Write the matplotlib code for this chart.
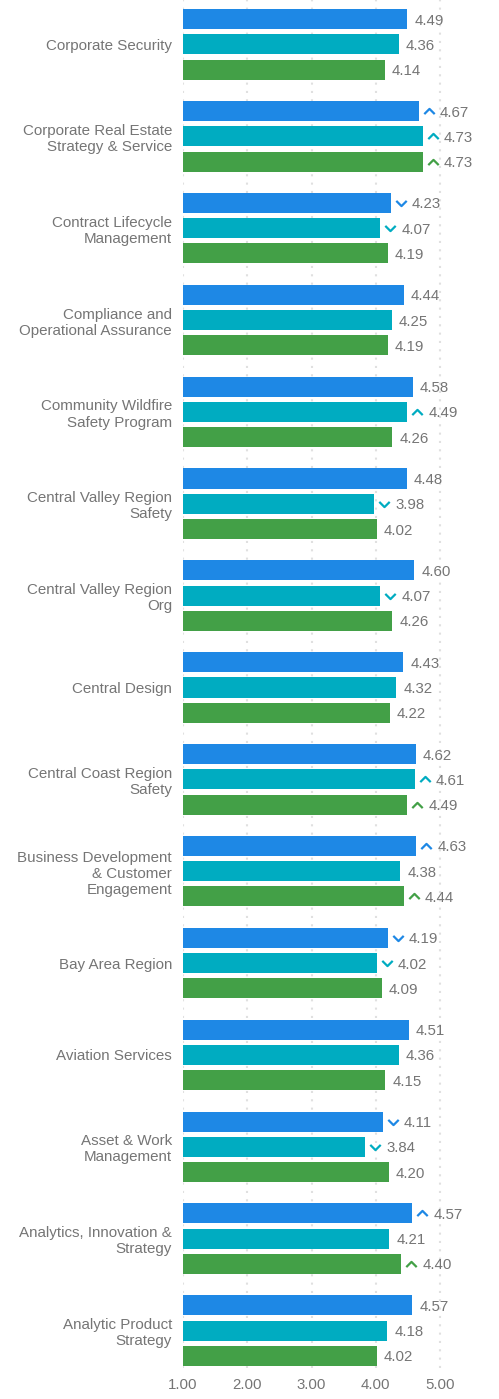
import matplotlib.pyplot as plt
from matplotlib.path import Path
from matplotlib.transforms import offset_copy
import numpy as np

plt.rcParams['font.family'] = ['Liberation Sans', 'DejaVu Sans']

# categories, top to bottom
categories = [
    "Corporate Security",
    "Corporate Real Estate\nStrategy & Service",
    "Contract Lifecycle\nManagement",
    "Compliance and\nOperational Assurance",
    "Community Wildfire\nSafety Program",
    "Central Valley Region\nSafety",
    "Central Valley Region\nOrg",
    "Central Design",
    "Central Coast Region\nSafety",
    "Business Development\n& Customer\nEngagement",
    "Bay Area Region",
    "Aviation Services",
    "Asset & Work\nManagement",
    "Analytics, Innovation &\nStrategy",
    "Analytic Product\nStrategy",
]

# three series per category
series_a = [4.49, 4.67, 4.23, 4.44, 4.58, 4.48, 4.60, 4.43, 4.62, 4.63, 4.19, 4.51, 4.11, 4.57, 4.57]
series_b = [4.36, 4.73, 4.07, 4.25, 4.49, 3.98, 4.07, 4.32, 4.61, 4.38, 4.02, 4.36, 3.84, 4.21, 4.18]
series_c = [4.14, 4.73, 4.19, 4.19, 4.26, 4.02, 4.26, 4.22, 4.49, 4.44, 4.09, 4.15, 4.20, 4.40, 4.02]

# trend markers: 1 = up, -1 = down, 0 = none
trend_a = [0, 1, -1, 0, 0, 0, 0, 0, 0, 1, -1, 0, -1, 1, 0]
trend_b = [0, 1, -1, 0, 1, -1, -1, 0, 1, 0, -1, 0, -1, 0, 0]
trend_c = [0, 1, 0, 0, 0, 0, 0, 0, 1, 1, 0, 0, 0, 1, 0]

xticks = [1, 2, 3, 4, 5]
xticklabels = ["1.00", "2.00", "3.00", "4.00", "5.00"]

colors = ["#1e88e5", "#00acc1", "#43a047"]
text_grey = "#757575"

W, H = 499, 1399
fig = plt.figure(figsize=(W / 100, H / 100), dpi=100)
ax_left, ax_right = 183, 480
ax_top, ax_bottom = 0, 1368
ax = fig.add_axes([ax_left / W, 1 - ax_bottom / H, (ax_right - ax_left) / W, (ax_bottom - ax_top) / H])

px_per_unit = 64.25
ax.set_xlim(1, 1 + (ax_right - ax_left) / px_per_unit)
n = len(categories)
ax.set_ylim(n - 1 + 0.408, -0.484)

y = np.arange(n)
offsets = [-0.275, 0.0, 0.275]
bar_h = 0.218

up = Path([(-1, -0.5), (0, 0.5), (1, -0.5)], [Path.MOVETO, Path.LINETO, Path.LINETO])
down = Path([(-1, 0.5), (0, -0.5), (1, 0.5)], [Path.MOVETO, Path.LINETO, Path.LINETO])

for vals, trends, off, col in zip([series_a, series_b, series_c],
                                  [trend_a, trend_b, trend_c], offsets, colors):
    ax.barh(y + off, np.array(vals) - 1, left=1, height=bar_h, color=col, zorder=3)
    for yi, v, t in zip(y, vals, trends):
        if t != 0:
            tr = offset_copy(ax.transData, fig=fig, x=10, y=0, units='dots')
            ax.plot([v], [yi + off], marker=up if t > 0 else down, markersize=7.5,
                    markerfacecolor='none', markeredgecolor=col, markeredgewidth=1.6,
                    transform=tr, clip_on=False, zorder=4)
            dx = 21
        else:
            dx = 7
        tr = offset_copy(ax.transData, fig=fig, x=dx, y=0, units='dots')
        ax.text(v, yi + off, f"{v:.2f}", transform=tr, ha='left', va='center_baseline',
                fontsize=10.8, color=text_grey, clip_on=False)

ax.set_yticks(y)
ax.set_yticklabels(categories, fontsize=10.9, color=text_grey, linespacing=1.2)
ax.set_xticks(xticks)
ax.set_xticklabels(xticklabels, fontsize=10.8, color=text_grey)
ax.tick_params(length=0)
ax.tick_params(axis='y', pad=8)
ax.tick_params(axis='x', pad=7)
for s in ax.spines.values():
    s.set_visible(False)
ax.grid(axis='x', color='#e0e0e0', linestyle=(0, (1, 3)), linewidth=1.5, zorder=0)
ax.grid(axis='y', visible=False)

fig.savefig("out.png", dpi=100)
